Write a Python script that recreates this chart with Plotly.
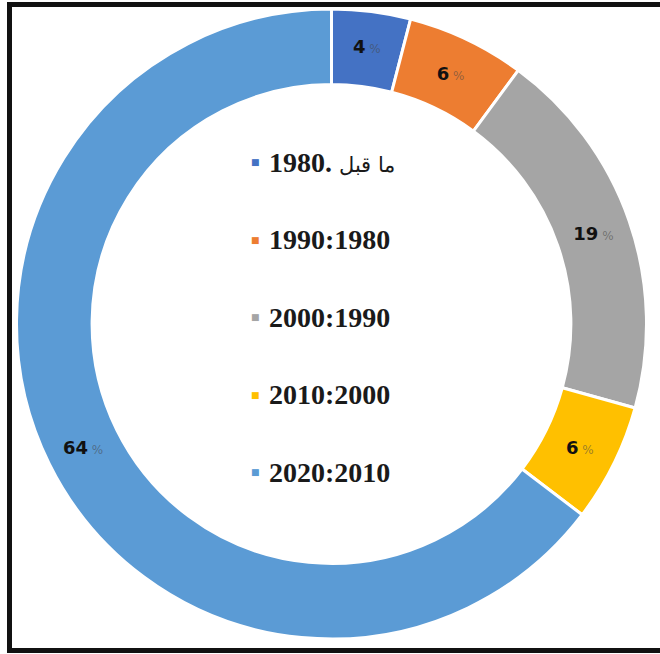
import plotly.graph_objects as go

# Share of buildings by construction period
periods = ["1980. ما قبل", "1990:1980", "2000:1990", "2010:2000", "2020:2010"]
shares = [4, 6, 19, 6, 64]
colors = ["#4472C4", "#ED7D31", "#A5A5A5", "#FFC000", "#5B9BD5"]

W, H = 660, 654
cx, cy, R = 331.5, 324.0, 315.0

fig = go.Figure(
    go.Pie(
        labels=periods,
        values=shares,
        hole=0.76,
        sort=False,
        direction="clockwise",
        rotation=0,
        marker=dict(colors=colors, line=dict(color="white", width=3)),
        texttemplate="<b>%{value}</b><span style='font-size:12px;font-weight:normal;color:rgba(70,70,70,0.55)'> %</span>",
        textposition="inside",
        insidetextorientation="horizontal",
        insidetextfont=dict(family="DejaVu Sans", size=18, color="#111111"),
        domain=dict(x=[(cx - R) / W, (cx + R) / W], y=[1 - (cy + R) / H, 1 - (cy - R) / H]),
        showlegend=False,
        hoverinfo="label+percent",
    )
)


def legend_label(name):
    # Arabic words are set lighter and smaller than the years
    parts = []
    for word in name.split(" "):
        if any("\u0600" <= ch <= "\u06ff" for ch in word):
            parts.append("<span style='font-size:21px;font-weight:normal'>" + word + "</span>")
        else:
            parts.append("<b>" + word + "</b>")
    return " ".join(parts)


# Legend drawn inside the hole
annotations = []
legend_top, legend_step = 162, 77.5
for i, (name, col) in enumerate(zip(periods, colors)):
    ypx = legend_top + i * legend_step
    annotations.append(dict(
        x=255 / W, y=1 - ypx / H, xref="paper", yref="paper",
        text="■", showarrow=False, xanchor="center", yanchor="middle",
        font=dict(size=9, color=col, family="DejaVu Sans"),
    ))
    annotations.append(dict(
        x=267 / W, y=1 - ypx / H, xref="paper", yref="paper",
        text=legend_label(name), showarrow=False, xanchor="left", yanchor="middle",
        font=dict(size=28, color="#1a1a1a", family="Liberation Serif"),
    ))

# Black frame around the chart (right side runs past the canvas)
shapes = [dict(
    type="rect", xref="paper", yref="paper",
    x0=9.5 / W, x1=1.05, y0=1 - 650.5 / H, y1=1 - 4.5 / H,
    line=dict(color="#111111", width=5), fillcolor="rgba(0,0,0,0)",
)]

fig.update_layout(
    width=W, height=H,
    margin=dict(l=0, r=0, t=0, b=0),
    paper_bgcolor="white",
    plot_bgcolor="white",
    annotations=annotations,
    shapes=shapes,
    uniformtext=dict(mode="show", minsize=18),
)

fig.write_html("out.html")
